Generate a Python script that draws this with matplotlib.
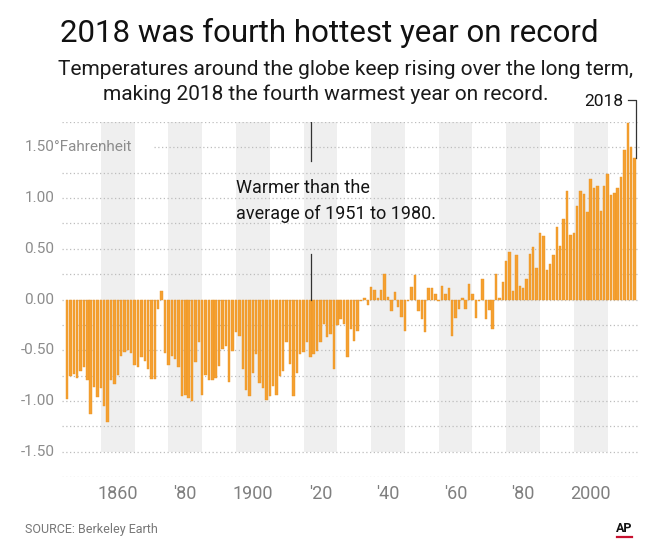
import matplotlib
matplotlib.use("Agg")
import matplotlib.pyplot as plt
import matplotlib.transforms as mtransforms
from matplotlib.lines import Line2D

plt.rcParams['font.family'] = ['Roboto', 'DejaVu Sans']

# Data ------------------------------------------------------------------------

# Annual temperature difference from the 1951-1980 average, degrees Fahrenheit
temps_1850_1883 = [-0.98, -0.75, -0.73, -0.77, -0.70, -0.67, -0.79, -1.13, -0.86, -0.96,
                   -0.87, -1.05, -1.21, -0.79, -0.83, -0.74, -0.56, -0.52, -0.50, -0.53,
                   -0.65, -0.67, -0.57, -0.61, -0.69, -0.78, -0.78, -0.09, 0.08, -0.53,
                   -0.65, -0.56, -0.59, -0.67]
temps_1884_1917 = [-0.95, -0.94, -0.97, -1.00, -0.62, -0.42,
                   -0.94, -0.74, -0.79, -0.79, -0.77, -0.66, -0.49, -0.46, -0.81, -0.51,
                   -0.32, -0.36, -0.69, -0.89, -0.95, -0.72, -0.54, -0.82, -0.87, -0.99,
                   -0.95, -0.85, -0.94, -0.75, -0.70, -0.42, -0.64, -0.95]
temps_1918_1936 = [-0.72, -0.54,
                   -0.52, -0.42, -0.57, -0.54, -0.51, -0.42, -0.24, -0.37, -0.34, -0.69,
                   -0.25, -0.19, -0.24, -0.57, -0.29, -0.41, -0.31]
temps_1937_1950 = [-0.01, 0.01, -0.05,
                   0.12, 0.09, 0.01, 0.09, 0.25, 0.02, -0.11, 0.07, -0.07, -0.17,
                   -0.31]
temps_1951_1983 = [-0.01, 0.12, 0.24, -0.11, -0.19, -0.32, 0.11, 0.11, 0.05,
                   -0.01, 0.13, 0.05, 0.11, -0.36, -0.18, -0.09, 0.01, -0.09, 0.15,
                   0.05, -0.18, -0.01, 0.20, -0.19, -0.10, -0.29, 0.25, 0.01, 0.17,
                   0.38, 0.47, 0.08, 0.44]
temps_1984_2018 = [0.13, 0.11, 0.20, 0.45, 0.52, 0.31,
                   0.66, 0.63, 0.29, 0.35, 0.44, 0.71, 0.53, 0.79, 1.07, 0.64,
                   0.66, 0.92, 1.07, 1.04, 0.86, 1.19, 1.10, 1.12, 0.87, 1.12,
                   1.24, 1.03, 1.05, 1.10, 1.21, 1.47, 1.74, 1.50, 1.40]

temps = (temps_1850_1883 + temps_1884_1917 + temps_1918_1936 +
         temps_1937_1950 + temps_1951_1983 + temps_1984_2018)
years = list(range(1850, 1850 + len(temps)))

band_decades = [1860, 1880, 1900, 1920, 1940, 1960, 1980, 2000]
x_tick_labels = ['1860', "'80", '1900', "'20", "'40", "'60", "'80", '2000']

y_ticks = [1.5, 1.0, 0.5, 0.0, -0.5, -1.0, -1.5]
y_tick_labels = ['1.50', '1.00', '0.50', '0.00', '-0.50', '-1.00', '-1.50']
grid_levels = [1.75, 1.5, 1.25, 1.0, 0.75, 0.5, 0.25, 0.0,
               -0.25, -0.5, -0.75, -1.0, -1.25, -1.5, -1.75]

# Figure ----------------------------------------------------------------------

W, H = 650, 550
fig = plt.figure(figsize=(6.5, 5.5), dpi=100)
fig.patch.set_facecolor('white')

ax = fig.add_axes([62 / W, 1 - 477 / H, 578 / W, 355 / H])
ax.set_xlim(1848.5, 2019.6)
ax.set_ylim(-1.75, 1.75)
ax.axis('off')

# grey decade bands
for d in band_decades:
    ax.axvspan(d, d + 10, ymin=0.25 / 3.5, ymax=1.0, color='#efefef', lw=0, zorder=0)

# dotted grid
for lvl in grid_levels:
    start = 0.16 if lvl == 1.5 else 0.0
    ax.axhline(lvl, xmin=start, xmax=1.0, color='#bdbdbd', lw=0.9,
               ls=(0, (1, 2)), zorder=1)

# bars
ax.bar(years, temps, width=0.72, color='#f5a030', edgecolor='#ea9426',
       linewidth=0.3, zorder=2)

# y labels
ytrans = mtransforms.blended_transform_factory(ax.transAxes, ax.transData)
for v, lab in zip(y_ticks, y_tick_labels):
    ax.text(-0.013, v, lab, ha='right', va='center', fontsize=11,
            color='#8c8c8c', transform=ytrans)
ax.text(-0.013, 1.5, '°Fahrenheit', ha='left', va='center', fontsize=11,
        color='#8c8c8c', transform=ytrans)

# x labels
xtrans = mtransforms.blended_transform_factory(ax.transData, ax.transAxes)
for d, lab in zip(band_decades, x_tick_labels):
    ax.text(d + 5, -0.048, lab, ha='center', va='center', fontsize=13,
            color='#7f7f7f', transform=xtrans)

# annotation: warmer than average
ax.text(1900.0, 1.05, 'Warmer than the', ha='left', va='baseline',
        fontsize=13, color='#151515')
ax.text(1900.0, 0.79, 'average of 1951 to 1980.', ha='left', va='baseline',
        fontsize=13, color='#151515')
ax.plot([1922.2, 1922.2], [1.75, 1.37], color='#333333', lw=0.9, zorder=3)
ax.plot([1922.2, 1922.2], [0.45, 0.0], color='#333333', lw=0.9, zorder=3)

# annotation: 2018
ax.text(2014.6, 1.957, '2018', ha='right', va='center', fontsize=12.5,
        color='#151515', clip_on=False)
ax.plot([2016.1, 2018.4, 2018.4], [1.967, 1.967, temps[-1]],
        color='#333333', lw=0.9, clip_on=False, zorder=3)

# titles
fig.text(329 / W, 1 - 42 / H, '2018 was fourth hottest year on record',
         ha='center', va='baseline', fontsize=22.5, color='#111111')
fig.text(346 / W, 1 - 75 / H,
         'Temperatures around the globe keep rising over the long term,',
         ha='center', va='baseline', fontsize=15, color='#1a1a1a')
fig.text(326 / W, 1 - 100 / H,
         'making 2018 the fourth warmest year on record.',
         ha='center', va='baseline', fontsize=15, color='#1a1a1a')

# footer
fig.text(25 / W, 1 - 530 / H, 'SOURCE: Berkeley Earth', ha='left', va='center',
         fontsize=9, color='#777777')
fig.text(624.5 / W, 1 - 528 / H, 'AP', ha='center', va='center', fontsize=9,
         fontweight='bold', color='#111111')
fig.add_artist(Line2D([617 / W, 632 / W], [1 - 537 / H, 1 - 537 / H],
                      color='#c8102e', lw=1.6, transform=fig.transFigure))

fig.savefig('out.png', dpi=100)
